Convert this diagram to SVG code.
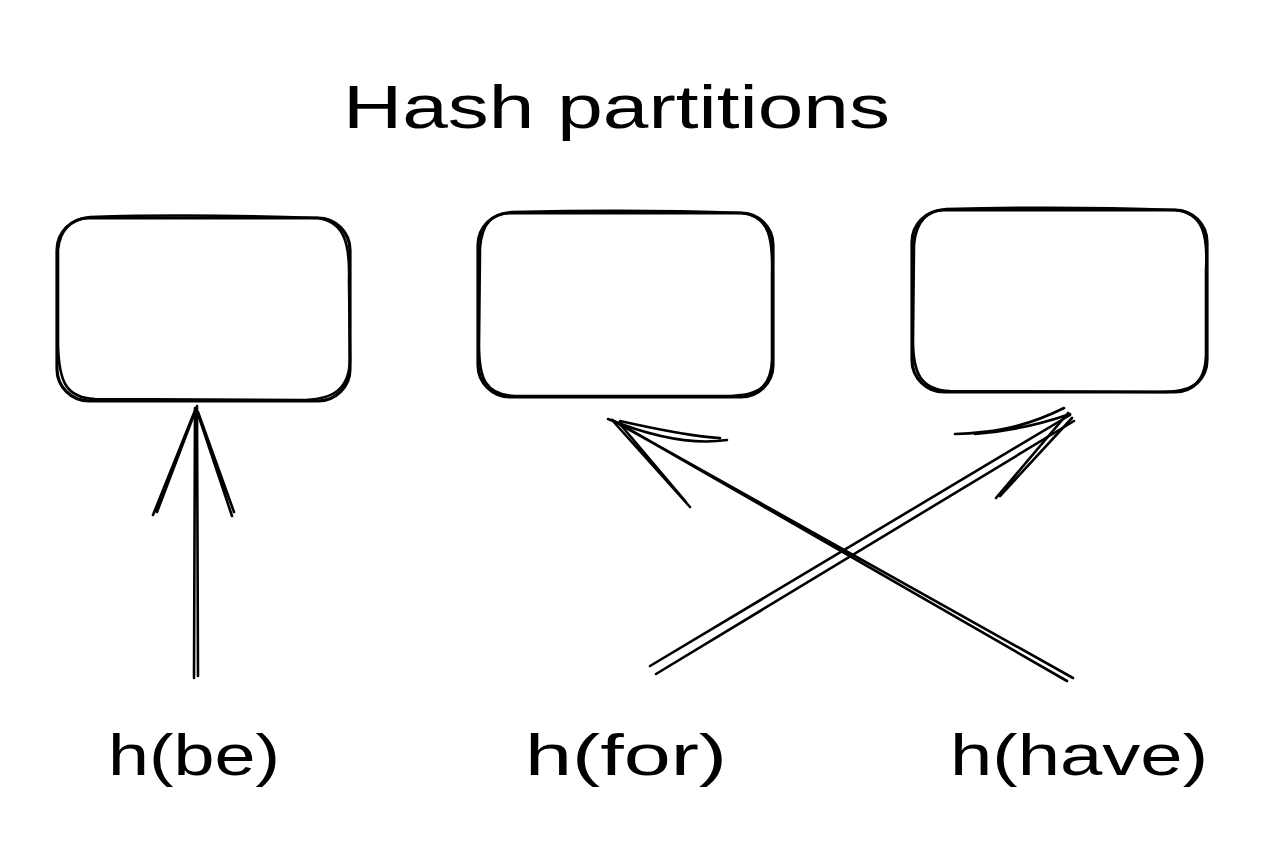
<svg xmlns="http://www.w3.org/2000/svg" width="1262" height="866" viewBox="0 0 1262 866">
<style>
.s{fill:none;stroke:#000;stroke-width:2.6;stroke-linecap:round;stroke-linejoin:round}
.b{stroke-width:3.2}
.t{font-family:"Liberation Sans","DejaVu Sans",sans-serif;fill:#000}
</style>
<rect width="1262" height="866" fill="#fff"/>
<g id="title"><text class="t" x="343" y="128" font-size="62" textLength="547" lengthAdjust="spacingAndGlyphs">Hash partitions</text></g>
<g id="box1">
<rect class="s b" x="57" y="218" width="293" height="183" rx="32"/>
<path class="s" d="M90 217 C180 214 260 216 318 218 C345 222 350 245 349 280 L350 360 C349 392 330 400 300 400 L95 399 C65 398 59 380 58 345 L58 250 C60 228 72 219 90 217"/>
</g>
<g id="box2">
<rect class="s b" x="478" y="213" width="295" height="184" rx="32"/>
<path class="s" d="M512 212 C600 210 690 211 742 213 C770 216 773 240 772 275 L772 360 C771 390 755 396 725 396 L515 396 C485 395 479 378 479 345 L480 248 C482 222 492 214 512 212"/>
</g>
<g id="box3">
<rect class="s b" x="912" y="210" width="295" height="182" rx="32"/>
<path class="s" d="M946 209 C1030 207 1120 208 1175 210 C1203 213 1208 235 1206 270 L1206 355 C1205 386 1190 392 1160 392 L950 391 C920 390 913 372 913 340 L914 245 C916 220 928 211 946 209"/>
</g>
<g id="label1"><text class="t" x="108" y="775" font-size="58" textLength="172" lengthAdjust="spacingAndGlyphs">h(be)</text></g>
<g id="label2"><text class="t" x="525" y="775" font-size="58" textLength="202" lengthAdjust="spacingAndGlyphs">h(for)</text></g>
<g id="label3"><text class="t" x="950" y="775" font-size="58" textLength="258" lengthAdjust="spacingAndGlyphs">h(have)</text></g>
<g id="connectors">
<path class="s" d="M194 678 L195 408 M198 676 L197 406"/>
<path class="s" d="M196 408 L153 515 M195 412 L157 512 M196 408 L232 516 M198 412 L234 512"/>
<path class="s" d="M1073 678 L612 420 M1067 681 L620 424"/>
<path class="s" d="M608 419 C660 440 700 444 727 440 M620 421 C660 430 700 437 720 438 M612 420 L690 507 M620 424 L686 502"/>
<path class="s" d="M650 666 L1070 415 M656 674 L1074 421"/>
<path class="s" d="M1064 408 C1020 430 985 433 955 434 M1070 414 C1030 428 1000 432 975 434 M1068 413 L996 498 M1072 418 L1000 496"/>
</g>
</svg>
